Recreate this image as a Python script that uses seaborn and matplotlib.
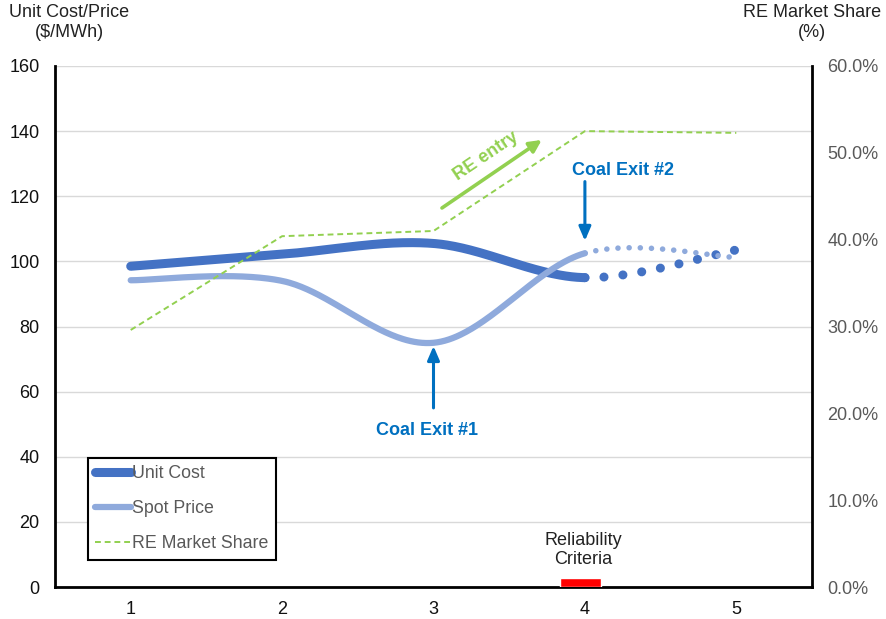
import numpy as np
import pandas as pd
import matplotlib
matplotlib.use("Agg")
import matplotlib.pyplot as plt
from matplotlib.ticker import PercentFormatter
from matplotlib.lines import Line2D
import seaborn as sns

# ---- data ----
years = [1, 2, 3, 4, 5]
unit_cost = [98.5, 102.2, 105.5, 95.0, 103.5]
spot_price = [94.2, 94.0, 75.0, 102.5, 101.2]
re_share = [29.6, 40.4, 41.0, 52.5, 52.3]          # percent
reliability_year = [3.97]
reliability_height = [2.8]

sns.set_theme(style="white")
plt.rcParams["font.family"] = ["Liberation Sans", "DejaVu Sans"]

C_UNIT = "#4472C4"
C_SPOT = "#8FAADC"
C_RE = "#92D050"
C_NOTE = "#0070C0"


def smooth_segments(xs, ys, n=80):
    """Piecewise cubic Bezier through the points (Catmull-Rom style)."""
    P = np.column_stack([xs, ys]).astype(float)
    segs = []
    for i in range(len(P) - 1):
        p0, p3 = P[i], P[i + 1]
        prev = P[i - 1] if i > 0 else P[i]
        nxt = P[i + 2] if i + 2 < len(P) else P[i + 1]
        c1 = p0 + (p3 - prev) / 6
        c2 = p3 - (nxt - p0) / 6
        t = np.linspace(0, 1, n)[:, None]
        segs.append((1 - t) ** 3 * p0 + 3 * (1 - t) ** 2 * t * c1
                    + 3 * (1 - t) * t ** 2 * c2 + t ** 3 * p3)
    return segs


def split_frames(xs, ys):
    segs = smooth_segments(xs, ys)
    solid = np.vstack(segs[:3])
    dotted = segs[3]
    return (pd.DataFrame({"x": solid[:, 0], "y": solid[:, 1]}),
            pd.DataFrame({"x": dotted[:, 0], "y": dotted[:, 1]}))


fig = plt.figure(figsize=(8.86, 6.19), dpi=100)
ax = fig.add_axes([55 / 886, 32 / 619, 757 / 886, 521 / 619])
ax2 = ax.twinx()

# grid
ax.set_ylim(0, 160)
ax.set_xlim(0.5, 5.5)
ax.set_yticks(np.arange(0, 161, 20))
ax.set_xticks(years)
ax.yaxis.grid(True, color="#D9D9D9", lw=1)
ax.set_axisbelow(True)

uc_solid, uc_dot = split_frames(years, unit_cost)
sp_solid, sp_dot = split_frames(years, spot_price)

sns.lineplot(data=uc_solid, x="x", y="y", sort=False, estimator=None, ax=ax,
             color=C_UNIT, lw=6.5, solid_capstyle="round", zorder=3)
sns.lineplot(data=uc_dot, x="x", y="y", sort=False, estimator=None, ax=ax,
             color=C_UNIT, lw=6.5, dash_capstyle="round", zorder=3)
ax.lines[-1].set_linestyle((0, (0.01, 2.1)))

sns.lineplot(data=sp_solid, x="x", y="y", sort=False, estimator=None, ax=ax,
             color=C_SPOT, lw=4.5, solid_capstyle="round", zorder=4)
sns.lineplot(data=sp_dot, x="x", y="y", sort=False, estimator=None, ax=ax,
             color=C_SPOT, lw=4.0, dash_capstyle="round", zorder=4)
ax.lines[-1].set_linestyle((0, (0.01, 2.0)))

# reliability criteria marker
ax.bar(reliability_year, reliability_height, width=0.27, color="#FF0000",
       zorder=5)
ax.text(3.99, 11.3, "Reliability\nCriteria", ha="center", va="center",
        fontsize=13, color="#222222", linespacing=1.15)

# RE market share on the secondary axis
re_df = pd.DataFrame({"x": years, "y": np.array(re_share) / 100})
sns.lineplot(data=re_df, x="x", y="y", ax=ax2, color=C_RE, lw=1.4,
             zorder=5)
ax2.lines[-1].set_linestyle((0, (3, 2)))
ax2.set_ylim(0, 0.6)
ax2.set_yticks(np.arange(0, 0.61, 0.1))
ax2.yaxis.set_major_formatter(PercentFormatter(1.0, decimals=1))

# annotations
ax.annotate("", xy=(3.0, 74.0), xytext=(3.0, 55.0),
            arrowprops=dict(arrowstyle="-|>,head_length=0.7,head_width=0.3",
                            color=C_NOTE, lw=2.2, shrinkA=0, shrinkB=0),
            zorder=6)
ax.text(2.96, 48.2, "Coal Exit #1", ha="center", va="center", fontsize=13,
        fontweight="bold", color=C_NOTE)

ax.annotate("", xy=(4.0, 106.3), xytext=(4.0, 124.5),
            arrowprops=dict(arrowstyle="-|>,head_length=0.7,head_width=0.3",
                            color=C_NOTE, lw=2.2, shrinkA=0, shrinkB=0),
            zorder=6)
ax.text(4.25, 127.8, "Coal Exit #2", ha="center", va="center", fontsize=13,
        fontweight="bold", color=C_NOTE)

ax.annotate("", xy=(3.715, 137.3), xytext=(3.056, 116.4),
            arrowprops=dict(arrowstyle="-|>,head_length=0.6,head_width=0.3",
                            color=C_RE, lw=2.6, shrinkA=0, shrinkB=0),
            zorder=6)
ax.text(3.35, 132.3, "RE entry", ha="center", va="center", fontsize=13,
        fontweight="bold", color=C_RE, rotation=34)

# spines and ticks
for a in (ax, ax2):
    for s in a.spines.values():
        s.set_visible(False)
ax.spines["left"].set_visible(True)
ax.spines["left"].set_color("black")
ax.spines["left"].set_linewidth(2)
ax.spines["bottom"].set_visible(True)
ax.spines["bottom"].set_color("black")
ax.spines["bottom"].set_linewidth(2)
ax2.spines["right"].set_visible(True)
ax2.spines["right"].set_color("black")
ax2.spines["right"].set_linewidth(2)

ax.tick_params(axis="y", length=0, pad=11, labelsize=13, labelcolor="#111111")
ax.tick_params(axis="x", length=0, pad=10, labelsize=13, labelcolor="#111111")
ax2.tick_params(axis="y", length=0, pad=11, labelsize=13, labelcolor="#595959")
ax.set_xlabel("")
ax.set_ylabel("")
ax2.set_xlabel("")
ax2.set_ylabel("")

fig.text(69 / 886, 1 - 4 / 619, "Unit Cost/Price\n($/MWh)", ha="center",
         va="top", fontsize=13, color="#222222", linespacing=1.2)
fig.text(812 / 886, 1 - 4 / 619, "RE Market Share\n(%)", ha="center",
         va="top", fontsize=13, color="#222222", linespacing=1.2)

# legend
handles = [
    Line2D([], [], color=C_UNIT, lw=6.5, solid_capstyle="round"),
    Line2D([], [], color=C_SPOT, lw=4.5, solid_capstyle="round"),
    Line2D([], [], color=C_RE, lw=1.4, linestyle=(0, (3, 2))),
]
leg = ax2.legend(handles, ["Unit Cost", "Spot Price", "RE Market Share"],
                 loc="lower left", bbox_to_anchor=(0.0436, 0.052),
                 frameon=True, fancybox=False, fontsize=12.8,
                 handlelength=2.0, handletextpad=0.06, labelspacing=1.02,
                 borderpad=0.42, borderaxespad=0)
leg.get_frame().set_edgecolor("black")
leg.get_frame().set_linewidth(1.5)
leg.get_frame().set_alpha(1)
for t in leg.get_texts():
    t.set_color("#595959")
leg.set_zorder(10)

fig.savefig("out.png", dpi=100)
